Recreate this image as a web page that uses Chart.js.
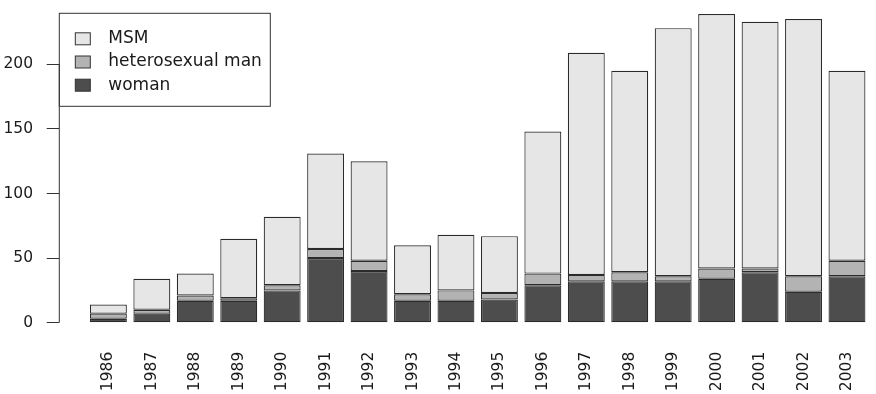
<!DOCTYPE html>
<html>
<head>
<meta charset="utf-8">
<script src="https://cdn.jsdelivr.net/npm/chart.js@4"></script>
<style>
  html, body { margin: 0; padding: 0; background: #fff; }
  #wrap { width: 876px; height: 394px; }
</style>
</head>
<body>
<div id="wrap"><canvas id="grafico"></canvas></div>
<script>
const anos = [1986, 1987, 1988, 1989, 1990, 1991, 1992, 1993, 1994, 1995, 1996, 1997, 1998, 1999, 2000, 2001, 2002, 2003];
const mulheres = [3, 7, 17, 17, 25, 50, 40, 17, 17, 18, 29, 32, 32, 32, 34, 39, 24, 36];
const hetero = [4, 3, 4, 2, 4, 7, 8, 5, 8, 5, 9, 5, 7, 4, 8, 3, 12, 12];
const msm = [7, 24, 17, 46, 53, 74, 77, 38, 43, 44, 110, 172, 156, 192, 197, 191, 199, 147];
const ticksY = [0, 50, 100, 150, 200];

const fonte = 'DejaVu Sans';

function serie(label, valores, cor) {
  return {
    label: label,
    data: valores.map((v, i) => ({ x: anos[i], y: v })),
    backgroundColor: cor,
    borderColor: '#2b2b2b',
    borderWidth: 1.2,
    borderSkipped: false,
    categoryPercentage: 1,
    barPercentage: 0.85
  };
}

function semPadding(s) {
  s.paddingLeft = 0;
  s.paddingRight = 0;
  s.paddingTop = 0;
  s.paddingBottom = 0;
}

// eixo y do R: linha so de 0 a 200
const eixoY = {
  id: 'eixoY',
  afterDraw(chart) {
    const ctx = chart.ctx;
    const y = chart.scales.y;
    const x0 = chart.chartArea.left;
    ctx.save();
    ctx.strokeStyle = '#333';
    ctx.lineWidth = 1;
    ctx.beginPath();
    ctx.moveTo(x0, y.getPixelForValue(ticksY[0]));
    ctx.lineTo(x0, y.getPixelForValue(ticksY[ticksY.length - 1]));
    ctx.stroke();
    ctx.restore();
  }
};

// legenda com caixa no canto superior esquerdo
const legendaR = {
  id: 'legendaR',
  afterDraw(chart) {
    const ctx = chart.ctx;
    const area = chart.chartArea;
    const itens = [2, 1, 0].map(i => chart.data.datasets[i]);
    ctx.save();
    ctx.strokeStyle = '#333';
    ctx.lineWidth = 1;
    ctx.strokeRect(area.left, area.top, 211, 93);
    ctx.font = '17px "' + fonte + '"';
    ctx.textBaseline = 'middle';
    itens.forEach((ds, k) => {
      const cy = area.top + 25.5 + k * 23.2;
      ctx.fillStyle = ds.backgroundColor;
      ctx.fillRect(area.left + 16, cy - 6, 15, 12);
      ctx.strokeRect(area.left + 16, cy - 6, 15, 12);
      ctx.fillStyle = '#1a1a1a';
      ctx.fillText(ds.label, area.left + 49, cy);
    });
    ctx.restore();
  }
};

const grafico = new Chart(document.getElementById('grafico'), {
  type: 'bar',
  data: {
    datasets: [
      serie('woman', mulheres, '#4d4d4d'),
      serie('heterosexual man', hetero, '#b3b3b3'),
      serie('MSM', msm, '#e6e6e6')
    ]
  },
  options: {
    responsive: true,
    maintainAspectRatio: false,
    animation: false,
    layout: { padding: { left: 0, right: 6, top: 13.3, bottom: 0 } },
    plugins: { legend: { display: false }, tooltip: { enabled: false } },
    scales: {
      x: {
        type: 'linear',
        stacked: true,
        offset: false,
        min: 1984.87,
        max: 2003.53,
        grid: { display: false, drawTicks: false },
        border: { display: false },
        afterBuildTicks: (s) => { s.ticks = anos.map(v => ({ value: v })); },
        afterFit: (s) => { s.height = 71.3; semPadding(s); },
        ticks: {
          autoSkip: false,
          minRotation: 90,
          maxRotation: 90,
          padding: 29,
          color: '#1a1a1a',
          font: { family: fonte, size: 15.5 },
          callback: (v) => String(v)
        }
      },
      y: {
        stacked: true,
        min: 0,
        max: 239.5,
        grid: { drawOnChartArea: false, tickLength: 12.6, color: '#333' },
        border: { display: false },
        afterBuildTicks: (s) => { s.ticks = ticksY.map(v => ({ value: v })); },
        afterFit: (s) => { s.width = 59.3; semPadding(s); },
        ticks: {
          padding: 13.7,
          color: '#1a1a1a',
          font: { family: fonte, size: 15.5 }
        }
      }
    }
  },
  plugins: [eixoY, legendaR]
});
</script>
</body>
</html>
